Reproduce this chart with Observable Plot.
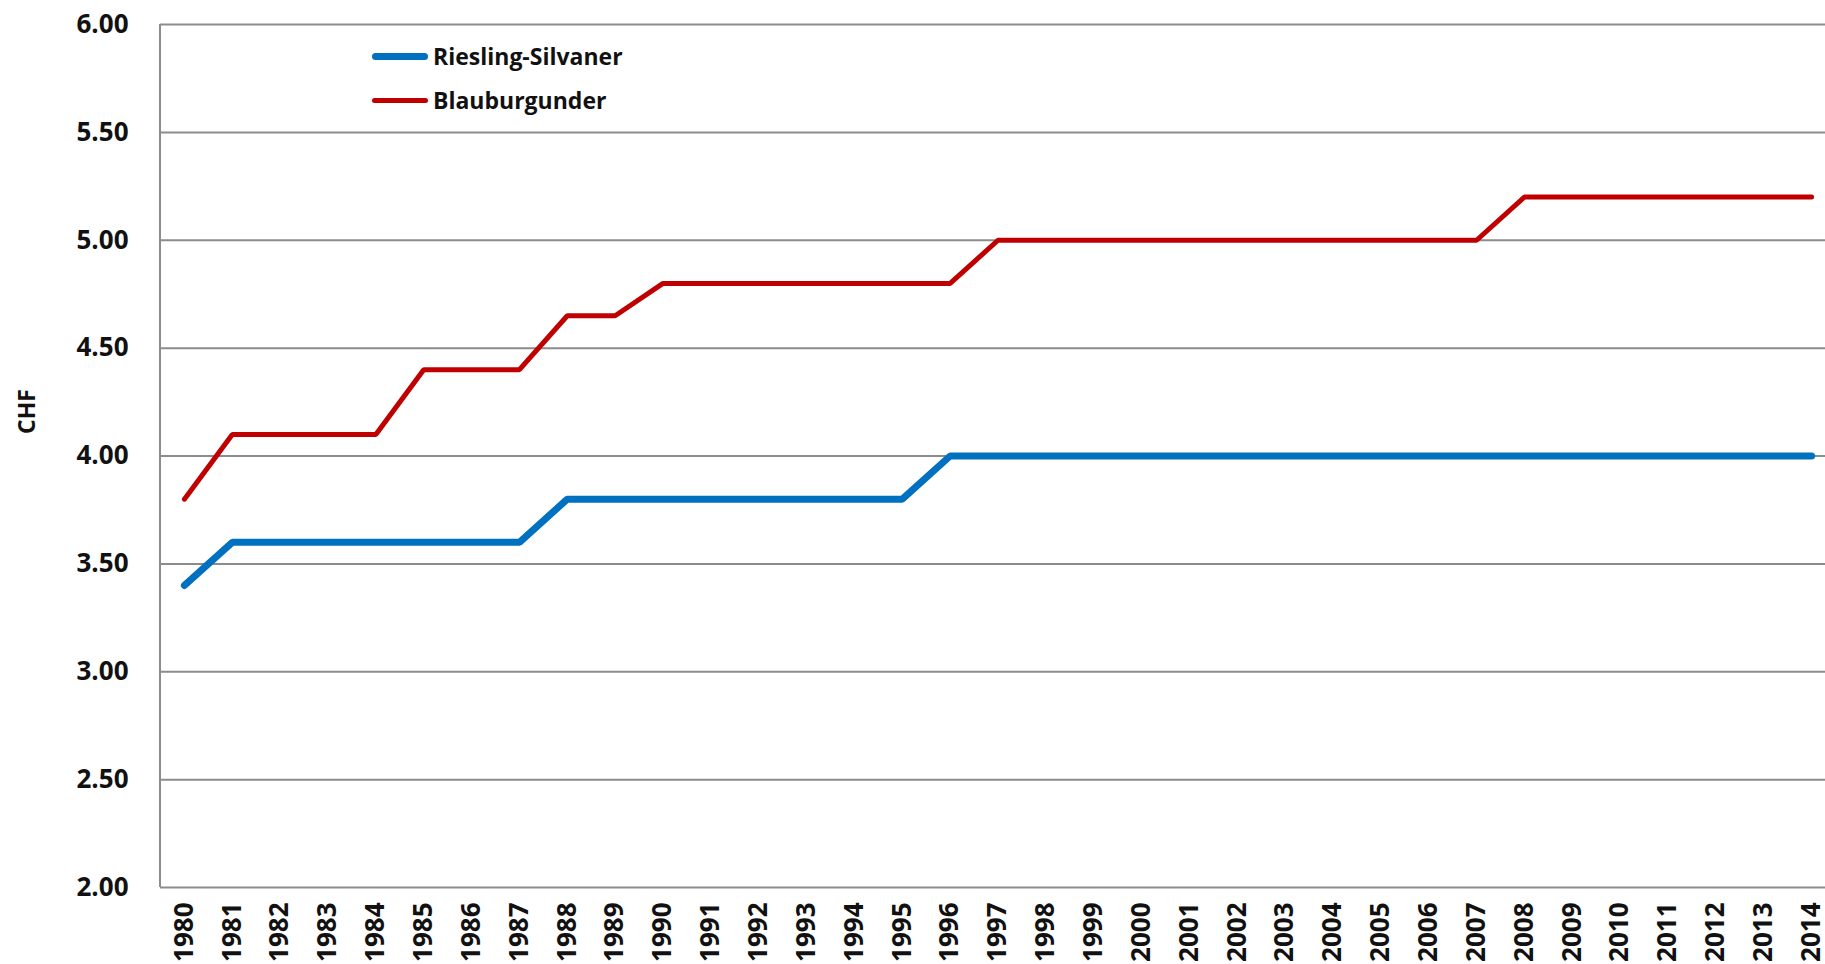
<!DOCTYPE html>
<html>
<head>
<meta charset="utf-8">
<script src="https://cdn.jsdelivr.net/npm/d3@7"></script>
<script src="https://cdn.jsdelivr.net/npm/@observablehq/plot@0.6"></script>
<style>
  html, body { margin: 0; padding: 0; background: #fff; overflow: hidden; }
  #wrap { position: relative; width: 1825px; height: 964px; font-family: "Open Sans", sans-serif; }
  #legend { position: absolute; left: 372px; top: 34px; font-weight: 700; font-size: 23px; color: #111; }
  .item { display: flex; align-items: center; height: 44px; }
  .sw { width: 56px; border-radius: 4px; margin-right: 5px; }
</style>
</head>
<body>
<div id="wrap"></div>
<script>
const years = ["1980","1981","1982","1983","1984","1985","1986","1987","1988","1989","1990","1991","1992","1993","1994","1995","1996","1997","1998","1999","2000","2001","2002","2003","2004","2005","2006","2007","2008","2009","2010","2011","2012","2013","2014"];
const rieslingSilvaner = [3.40,3.60,3.60,3.60,3.60,3.60,3.60,3.60,3.80,3.80,3.80,3.80,3.80,3.80,3.80,3.80,4.00,4.00,4.00,4.00,4.00,4.00,4.00,4.00,4.00,4.00,4.00,4.00,4.00,4.00,4.00,4.00,4.00,4.00,4.00];
const blauburgunder = [3.80,4.10,4.10,4.10,4.10,4.40,4.40,4.40,4.65,4.65,4.80,4.80,4.80,4.80,4.80,4.80,4.80,5.00,5.00,5.00,5.00,5.00,5.00,5.00,5.00,5.00,5.00,5.00,5.20,5.20,5.20,5.20,5.20,5.20,5.20];
const seriesNames = ["Riesling-Silvaner", "Blauburgunder"];
const seriesColors = ["#0070C0", "#C00000"];
const seriesWidths = [7, 5];
const yTicks = [2.0, 2.5, 3.0, 3.5, 4.0, 4.5, 5.0, 5.5, 6.0];
const yLabel = "CHF";

const rs = years.map((y, i) => ({year: y, value: rieslingSilvaner[i]}));
const bb = years.map((y, i) => ({year: y, value: blauburgunder[i]}));

const leftLine = (index, scales, values, dim) => {
  const g = d3.create("svg:g");
  g.append("line")
    .attr("x1", dim.marginLeft).attr("x2", dim.marginLeft)
    .attr("y1", scales.y(d3.max(yTicks))).attr("y2", scales.y(d3.min(yTicks)))
    .attr("stroke", "#8c8c8c").attr("stroke-width", 2);
  return g.node();
};

const plot = Plot.plot({
  width: 1825,
  height: 964,
  marginLeft: 160,
  marginTop: 24,
  marginBottom: 77,
  marginRight: -10,
  style: {fontFamily: "'Open Sans', sans-serif", background: "#fff", overflow: "hidden"},
  x: {type: "point", domain: years, padding: 0.5, round: false},
  y: {domain: [2, 6]},
  marks: [
    Plot.ruleY(yTicks, {stroke: "#8c8c8c", strokeWidth: 2}),
    leftLine,
    Plot.axisY({ticks: yTicks, tickFormat: d3.format(".2f"), tickSize: 0, tickPadding: 32, fontSize: 26, fontWeight: 700, label: null, fill: "#111"}),
    Plot.axisX({tickRotate: -90, tickSize: 0, tickPadding: 15, fontSize: 26, fontWeight: 700, label: null, fill: "#111"}),
    Plot.text([yLabel], {frameAnchor: "left", dx: -133, dy: -22, rotate: -90, fontSize: 23, fontWeight: 700, fill: "#111"}),
    Plot.line(bb, {x: "year", y: "value", stroke: seriesColors[1], strokeWidth: seriesWidths[1], strokeLinecap: "round", strokeLinejoin: "miter"}),
    Plot.line(rs, {x: "year", y: "value", stroke: seriesColors[0], strokeWidth: seriesWidths[0], strokeLinecap: "round", strokeLinejoin: "miter"})
  ]
});
document.getElementById("wrap").appendChild(plot);

const legend = document.createElement("div");
legend.id = "legend";
seriesNames.forEach((name, i) => {
  const item = document.createElement("div");
  item.className = "item";
  const sw = document.createElement("span");
  sw.className = "sw";
  sw.style.height = seriesWidths[i] + "px";
  sw.style.background = seriesColors[i];
  const t = document.createElement("span");
  t.textContent = name;
  item.appendChild(sw);
  item.appendChild(t);
  legend.appendChild(item);
});
document.getElementById("wrap").appendChild(legend);
</script>
</body>
</html>
